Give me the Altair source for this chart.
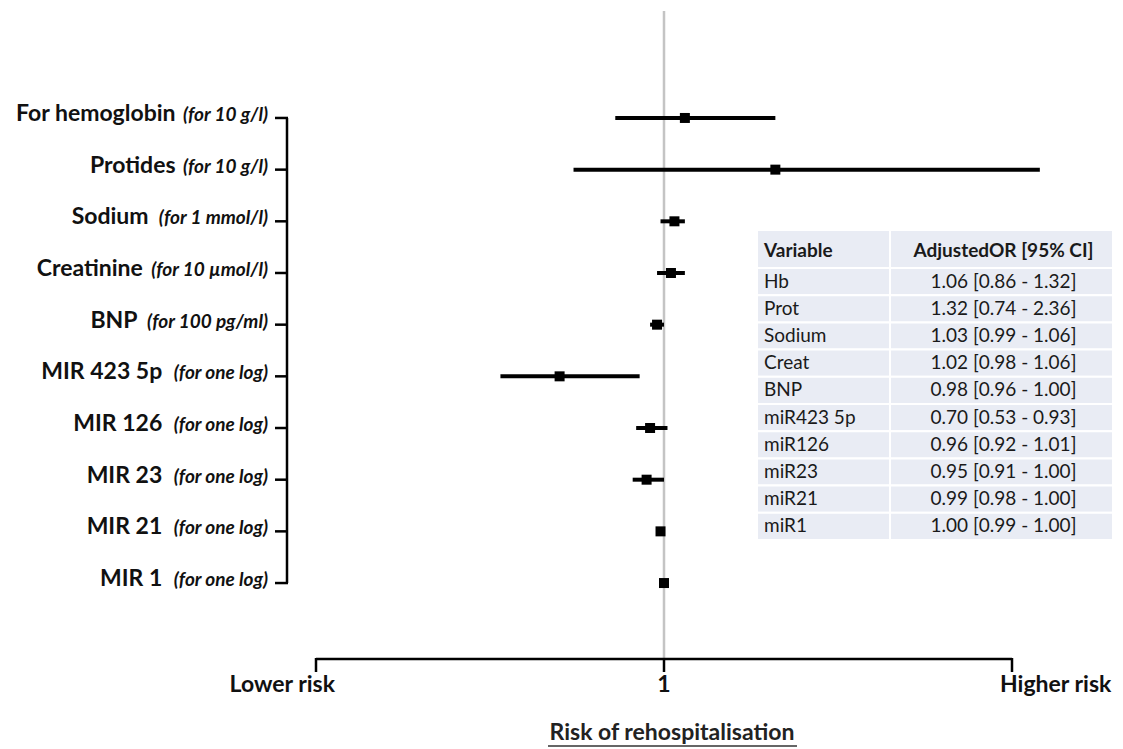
import altair as alt
import pandas as pd

# ---------------- data ----------------
names = ["For hemoglobin", "Protides", "Sodium", "Creatinine", "BNP",
         "MIR 423 5p", "MIR 126", "MIR 23", "MIR 21", "MIR 1"]
units = ["(for 10 g/l)", "(for 10 g/l)", "(for 1 mmol/l)", "(for 10 µmol/l)",
         "(for 100 pg/ml)", "(for one log)", "(for one log)", "(for one log)",
         "(for one log)", "(for one log)"]
short_names = ["Hb", "Prot", "Sodium", "Creat", "BNP",
               "miR423 5p", "miR126", "miR23", "miR21", "miR1"]
odds_ratio = [1.06, 1.32, 1.03, 1.02, 0.98, 0.70, 0.96, 0.95, 0.99, 1.00]
ci_low = [0.86, 0.74, 0.99, 0.98, 0.96, 0.53, 0.92, 0.91, 0.98, 0.99]
ci_high = [1.32, 2.36, 1.06, 1.06, 1.00, 0.93, 1.01, 1.00, 1.00, 1.00]
axis_values = [0, 1, 2]
axis_labels = ["Lower risk", "1", "Higher risk"]
table_header = ["Variable", "AdjustedOR [95% CI]"]
x_drawn_max = 2.08  # the original truncates the Protides CI line here

# ---------------- layout helpers ----------------
FONT = "Lato"
ITAL_SIZE = 19
BOLD_SIZE = 23
TBL_SIZE = 19
W = 696
H = 648

_cw = {'(': .30, ')': .30, 'f': .33, 'o': .56, 'r': .38, ' ': .19, 'g': .52,
       '/': .36, 'l': .26, 'm': .85, 'µ': .57, 'p': .57, 'n': .57, 'e': .53}


def text_w(s, size):
    return sum(_cw.get(c, .58) for c in s) * size


n = len(names)
rows = list(range(n))
forest = pd.DataFrame({
    "row": rows,
    "name": names,
    "unit": units,
    "or": odds_ratio,
    "lo": ci_low,
    "hi": [min(h, x_drawn_max) for h in ci_high],
})
forest["xb"] = [-48 - text_w(u, ITAL_SIZE) - 6 for u in units]

xs = alt.Scale(domain=[0, 2], nice=False, zero=False)
ys = alt.Scale(domain=[-2.07, 10.47], reverse=True, nice=False, zero=False)

ref_line = alt.Chart(pd.DataFrame({"x": [1]})).mark_rule(
    color="#c4c4c4", strokeWidth=2.5
).encode(x=alt.X("x:Q", scale=xs, axis=None))

# bottom axis drawn as marks
axis_df = pd.DataFrame({"v": axis_values, "lab": axis_labels})
x_domain = alt.Chart(pd.DataFrame({"a": [axis_values[0]], "b": [axis_values[-1]]})).mark_rule(
    color="black", strokeWidth=2.5
).encode(x=alt.X("a:Q", scale=xs, axis=None), x2="b:Q", y=alt.value(H))

x_ticks = alt.Chart(axis_df).mark_rule(color="black", strokeWidth=2.5).encode(
    x=alt.X("v:Q", scale=xs, axis=None), y=alt.value(H - 1), y2=alt.value(H + 13)
)

ci = alt.Chart(forest).mark_rule(color="black", strokeWidth=4).encode(
    x=alt.X("lo:Q", scale=xs, axis=None),
    x2="hi:Q",
    y=alt.Y("row:Q", scale=ys, axis=None),
)

pts = alt.Chart(forest).mark_square(color="black", size=100, opacity=1).encode(
    x=alt.X("or:Q", scale=xs, axis=None),
    y=alt.Y("row:Q", scale=ys, axis=None),
)

left_line = alt.Chart(pd.DataFrame({"a": [rows[0]], "b": [rows[-1]]})).mark_rule(
    color="black", strokeWidth=2.5
).encode(
    x=alt.value(-29),
    y=alt.Y("a:Q", scale=ys, axis=None),
    y2="b:Q",
)

left_ticks = alt.Chart(forest).mark_rule(color="black", strokeWidth=2.5).encode(
    x=alt.value(-41),
    x2=alt.value(-28),
    y=alt.Y("row:Q", scale=ys, axis=None),
)

bold_lab = alt.Chart(forest).mark_text(
    align="right", baseline="alphabetic", font=FONT, fontWeight="bold",
    fontSize=BOLD_SIZE, color="#111111", dy=3
).encode(
    x=alt.X("xb:Q", scale=None),
    y=alt.Y("row:Q", scale=ys, axis=None),
    text="name:N",
)

ital_lab = alt.Chart(forest).mark_text(
    align="right", baseline="alphabetic", font=FONT, fontWeight="bold",
    fontStyle="italic", fontSize=ITAL_SIZE, color="#111111", dy=3
).encode(
    x=alt.value(-48),
    y=alt.Y("row:Q", scale=ys, axis=None),
    text="unit:N",
)

# ---------------- table ----------------
T_LEFT, T_MID, T_RIGHT = 441, 574, 797
T_TOP, T_HEAD_B, ROW_H = 219, 257, 27.2
cells = []
texts = []
for j in range(-1, n):
    if j < 0:
        top, bot = T_TOP, T_HEAD_B
        c1, c2, wt = table_header[0], table_header[1], "bold"
    else:
        top = T_HEAD_B + ROW_H * j
        bot = top + ROW_H
        c1 = short_names[j]
        c2 = f"{odds_ratio[j]:.2f} [{ci_low[j]:.2f} - {ci_high[j]:.2f}]"
        wt = "normal"
    cells.append({"x": T_LEFT, "x2": T_MID, "y": top, "y2": bot})
    cells.append({"x": T_MID, "x2": T_RIGHT, "y": top, "y2": bot})
    yc = (top + bot) / 2 + (2 if j < 0 else 0)
    texts.append({"x": T_LEFT + 7, "y": yc, "t": c1, "w": wt, "a": "left"})
    texts.append({"x": (T_MID + T_RIGHT) / 2 + 2, "y": yc, "t": c2, "w": wt, "a": "center"})
cells = pd.DataFrame(cells)
texts = pd.DataFrame(texts)

tbl_bg = alt.Chart(cells).mark_rect(fill="#e9ecf4", stroke="white", strokeWidth=2).encode(
    x=alt.X("x:Q", scale=None), x2="x2:Q",
    y=alt.Y("y:Q", scale=None), y2="y2:Q",
)


def tbl_text(weight, align):
    d = texts[(texts.w == weight) & (texts.a == align)]
    return alt.Chart(d).mark_text(
        align=align, baseline="middle", font=FONT, fontSize=TBL_SIZE,
        fontWeight=weight, color="#1a1a1a"
    ).encode(x=alt.X("x:Q", scale=None), y=alt.Y("y:Q", scale=None), text="t:N")


tbl_txt = [tbl_text(w, a) for w in ["bold", "normal"] for a in ["left", "center"]]


# ---------------- bottom axis labels & title ----------------
def axis_lab(i, align, dx):
    return alt.Chart(axis_df.iloc[[i]]).mark_text(
        align=align, baseline="alphabetic", font=FONT, fontWeight="bold",
        fontSize=23, color="#111111", dx=dx
    ).encode(x=alt.X("v:Q", scale=xs, axis=None), y=alt.value(681), text="lab:N")


axis_labs = [axis_lab(0, "right", 19), axis_lab(1, "center", 0), axis_lab(2, "left", -12)]

title = alt.Chart(pd.DataFrame({"t": ["Risk of rehospitalisation"]})).mark_text(
    align="center", baseline="alphabetic", font=FONT, fontWeight="bold",
    fontSize=23, color="#222222"
).encode(x=alt.value(356), y=alt.value(729), text="t:N")

underline = alt.Chart(pd.DataFrame({"t": [0]})).mark_rule(
    color="#333333", strokeWidth=1.5
).encode(x=alt.value(232), x2=alt.value(481), y=alt.value(735))

chart = alt.layer(
    ref_line, x_domain, x_ticks, tbl_bg, *tbl_txt, ci, pts, left_line, left_ticks,
    bold_lab, ital_lab, *axis_labs, title, underline
).properties(
    width=W, height=H,
    padding={"left": 308, "top": 3, "right": 103, "bottom": 88},
    autosize=alt.AutoSizeParams(type="none"),
    background="white",
).configure_view(stroke=None)

chart.save("out.html", embed_options={"renderer": "svg", "actions": False})
